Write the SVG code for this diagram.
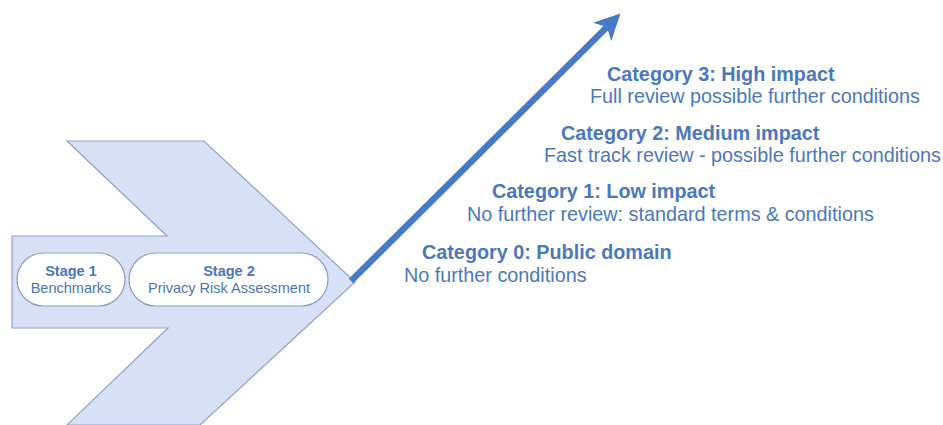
<svg xmlns="http://www.w3.org/2000/svg" width="943" height="425" viewBox="0 0 943 425">
  <style>
    .chev { fill: #d8e0f5; stroke: #8fa4d0; stroke-width: 1.2; }
    .pill { fill: #ffffff; stroke: #8a9dc6; stroke-width: 1.2; }
    .st { font-family: "Liberation Sans", Arial, sans-serif; font-size: 14.5px; fill: #4a76b8; text-anchor: middle; }
    .b { font-weight: bold; }
    .cat { font-family: "Liberation Sans", Arial, sans-serif; font-size: 19.8px; fill: #4a78bb; }
    .arrow { stroke: #4679c8; stroke-width: 6.5; fill: none; }
  </style>
  <defs>
    <marker id="head" markerUnits="userSpaceOnUse" viewBox="0 0 26 26" markerWidth="26" markerHeight="26" refX="7" refY="13" orient="auto">
      <path d="M0,0 L26,13 L0,26 L7,13 z" fill="#4679c8"/>
    </marker>
  </defs>
  <rect width="943" height="425" fill="#ffffff"/>
  <g id="chevron">
    <polygon class="chev" points="12,236 167,236 67,141 204,141 355,282 200,425 67,425 168,328 12,328"/>
  </g>
  <g id="stage1">
    <rect class="pill" x="17" y="253" width="108" height="53" rx="26.5"/>
    <text class="st b" x="71" y="276">Stage 1</text>
    <text class="st" x="71" y="293">Benchmarks</text>
  </g>
  <g id="stage2">
    <rect class="pill" x="129" y="253" width="199" height="53" rx="26.5"/>
    <text class="st b" x="229" y="276">Stage 2</text>
    <text class="st" x="229" y="293">Privacy Risk Assessment</text>
  </g>
  <g id="connectors">
    <line class="arrow" x1="351" y1="281" x2="607" y2="27" marker-end="url(#head)"/>
  </g>
  <g id="cat3">
    <text class="cat b" x="607" y="81">Category 3: High impact</text>
    <text class="cat" x="590" y="103">Full review possible further conditions</text>
  </g>
  <g id="cat2">
    <text class="cat b" x="561" y="140">Category 2: Medium impact</text>
    <text class="cat" x="544" y="162">Fast track review - possible further conditions</text>
  </g>
  <g id="cat1">
    <text class="cat b" x="492" y="198">Category 1: Low impact</text>
    <text class="cat" x="467" y="221">No further review: standard terms &amp; conditions</text>
  </g>
  <g id="cat0">
    <text class="cat b" x="422" y="259">Category 0: Public domain</text>
    <text class="cat" x="404" y="282">No further conditions</text>
  </g>
</svg>
